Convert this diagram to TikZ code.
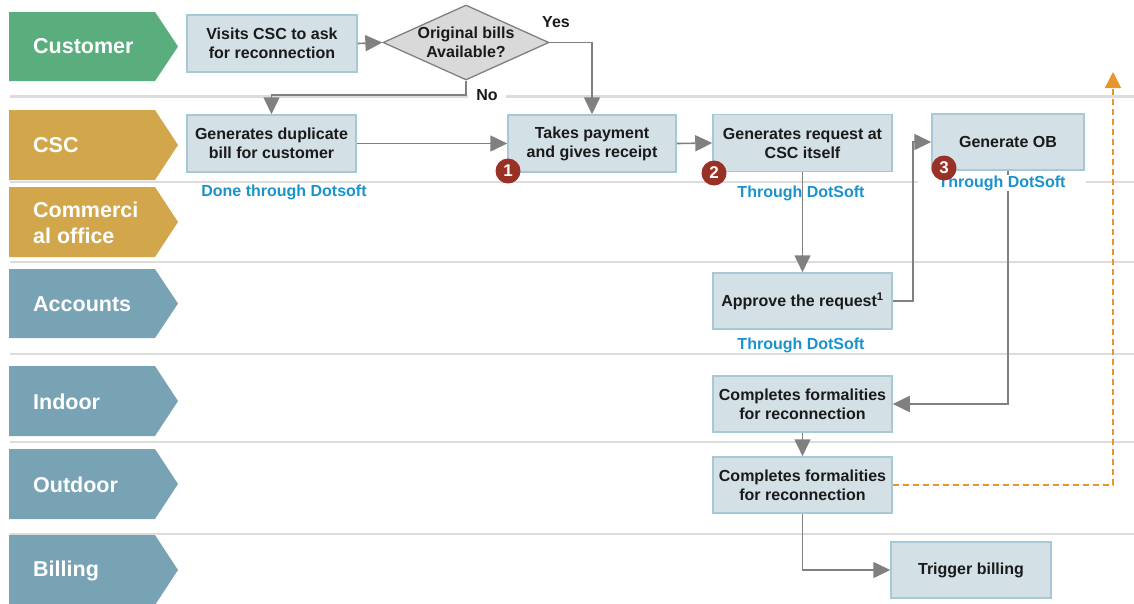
\documentclass[tikz,border=0pt]{standalone}
\usepackage{fontspec}
\setmainfont{Liberation Sans}
\usetikzlibrary{arrows.meta,shapes.geometric}
\definecolor{custgreen}{HTML}{5AAE7E}
\definecolor{gold}{HTML}{D2A64B}
\definecolor{slate}{HTML}{78A3B5}
\definecolor{boxfill}{HTML}{D3E0E6}
\definecolor{boxline}{HTML}{A9C8D6}
\definecolor{sepgray}{HTML}{DCDCDC}
\definecolor{arrgray}{HTML}{808080}
\definecolor{dotblue}{HTML}{1A93CD}
\definecolor{badgered}{HTML}{9A3127}
\definecolor{dashorange}{HTML}{E8952A}
\definecolor{diafill}{HTML}{D9D9D9}
\definecolor{txtdark}{HTML}{1A1A1A}
\begin{document}
\begin{tikzpicture}[x=1pt,y=-1pt,
  sep/.style={draw=sepgray, line width=2pt},
  lanetext/.style={anchor=west, text=white, align=left, inner sep=0pt,
    font=\bfseries\fontsize{21.5}{26.5}\selectfont},
  box/.style={draw=boxline, fill=boxfill, line width=1.5pt, minimum height=57pt,
    align=center, text=txtdark, inner sep=2pt,
    font=\bfseries\fontsize{16}{19}\selectfont},
  note/.style={text=dotblue, inner sep=1pt, font=\bfseries\fontsize{16}{19}\selectfont},
  yesno/.style={text=txtdark, inner sep=2pt, font=\bfseries\fontsize{16}{19}\selectfont},
  arr/.style={draw=arrgray, line width=1.6pt, -{Triangle[length=17pt,width=16pt]}},
  orangedash/.style={draw=dashorange, line width=1.5pt, dash pattern=on 6pt off 4pt,
    -{Triangle[length=16pt,width=16pt]}},
  badge/.style={circle, fill=badgered, text=white, minimum size=25pt, inner sep=0pt,
    font=\bfseries\fontsize{17}{17}\selectfont}
]
\useasboundingbox (0,0) rectangle (1134,603);

% lane separators
\draw[sep, line width=3pt] (10,96) -- (1134,96);
\draw[sep] (10,182) -- (1134,182);
\draw[sep] (10,262) -- (1134,262);
\draw[sep] (10,354) -- (1134,354);
\draw[sep] (10,442) -- (1134,442);
\draw[sep] (10,534) -- (1134,534);

% lane labels
\fill[custgreen] (9,12) -- (155,12) -- (178,46.5) -- (155,81) -- (9,81) -- cycle;
\node[lanetext] (lcust) at (33,46.5) {Customer};
\fill[gold] (9,110) -- (155,110) -- (178,145) -- (155,180) -- (9,180) -- cycle;
\node[lanetext] (lcsc) at (33,145) {CSC};
\fill[gold] (9,187) -- (155,187) -- (178,222) -- (155,257) -- (9,257) -- cycle;
\node[lanetext] (lcom) at (33,223) {Commerci\\al office};
\fill[slate] (9,269) -- (155,269) -- (178,303.5) -- (155,338) -- (9,338) -- cycle;
\node[lanetext] (lacc) at (33,304.5) {Accounts};
\fill[slate] (9,366) -- (155,366) -- (178,401) -- (155,436) -- (9,436) -- cycle;
\node[lanetext] (lind) at (33,401.5) {Indoor};
\fill[slate] (9,449) -- (155,449) -- (178,484) -- (155,519) -- (9,519) -- cycle;
\node[lanetext] (lout) at (33,485) {Outdoor};
\fill[slate] (9,535) -- (155,535) -- (178,570) -- (155,605) -- (9,605) -- cycle;
\node[lanetext] (lbil) at (33,571) {Billing};

% process boxes
\node[box, minimum width=170pt] (visits) at (272,43.5) {Visits CSC to ask\\for reconnection};
\node[diamond, draw=arrgray, fill=diafill, line width=1.3pt, aspect=2.2,
  minimum width=166pt, minimum height=75pt, inner sep=-5pt, align=center,
  text=txtdark, font=\bfseries\fontsize{16}{19}\selectfont] (dia) at (466,42.5) {Original bills\\Available?};
\node[box, minimum width=169pt] (dup) at (271.5,143.5) {Generates duplicate\\bill for customer};
\node[box, minimum width=168pt] (pay) at (592,143.5) {Takes payment\\and gives receipt};
\node[box, minimum width=179pt] (req) at (802.5,143) {Generates request at\\CSC itself};
\node[box, minimum width=152pt, minimum height=56pt] (ob) at (1008,142) {Generate OB};
\node[box, minimum width=179pt, minimum height=56pt] (approve) at (802.5,301) {Approve the request\textsuperscript{1}};
\node[box, minimum width=179pt, minimum height=56pt] (indoor) at (802.5,404) {Completes formalities\\for reconnection};
\node[box, minimum width=179pt, minimum height=56pt] (outbox) at (802.5,485) {Completes formalities\\for reconnection};
\node[box, minimum width=160pt, minimum height=56pt] (trigger) at (971,570) {Trigger billing};

% notes
\node[note] (n1) at (284,192) {Done through Dotsoft};
\node[note] (n2) at (801,193) {Through DotSoft};
\node[note] (n4) at (801,345) {Through DotSoft};
\node[yesno] (yes) at (556,22) {Yes};
\node[yesno, fill=white, inner xsep=8pt] (no) at (487,95) {No};

% connectors
\draw[arr] (visits.east) -- (dia.west);
\draw[arr] (dia.east) -| (pay.north);
\draw[arr] (dia.south) -- (dia.south |- no.west) -| (dup.north);
\draw[arr] (dup.east) -- (pay.west);
\draw[arr] (pay.east) -- (req.west);
\draw[arr] (req.south) -- (approve.north);
\draw[arr] (approve.east) -- ++(20,0) |- (ob.west);
\draw[arr] (ob.south) |- (indoor.east);
\draw[arr] (indoor.south) -- (outbox.north);
\draw[arr] (outbox.south) |- (trigger.west);
\coordinate (otop) at (1113,72);
\draw[orangedash] (outbox.east) -| (otop);

\node[note, fill=white, inner xsep=20pt] (n3) at (1002,183) {Through DotSoft};

% badges
\node[badge] (b1) at (508,171) {1};
\node[badge] (b2) at (714,173) {2};
\node[badge] (b3) at (944,168) {3};
\end{tikzpicture}
\end{document}
